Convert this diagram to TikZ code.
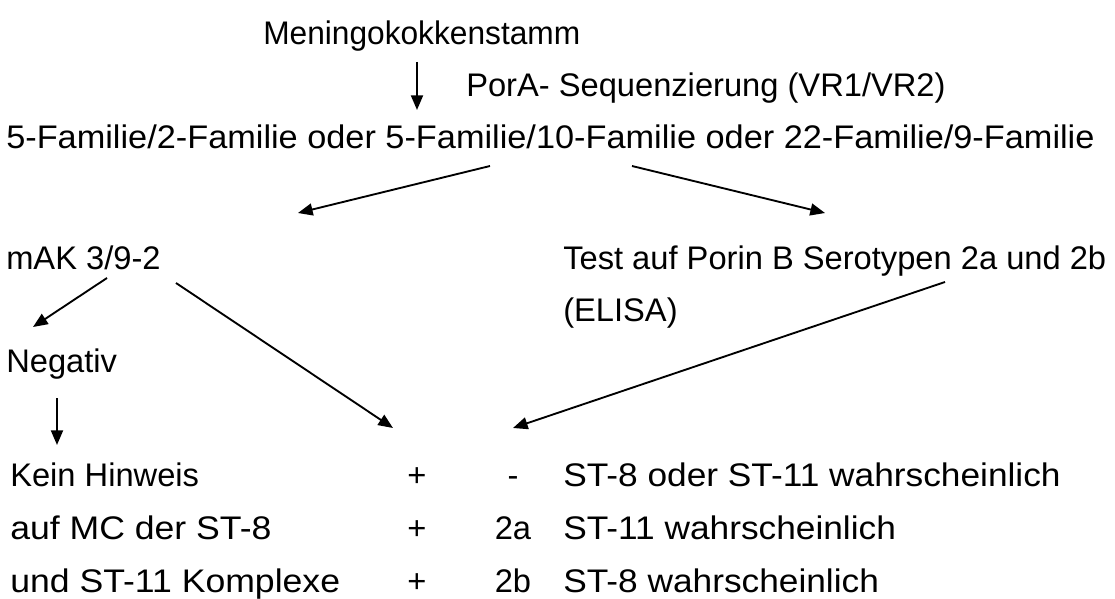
\documentclass[tikz,border=0pt]{standalone}
\usepackage{fontspec}
\setmainfont{Liberation Sans}
\usetikzlibrary{arrows.meta}

\begin{document}
\begin{tikzpicture}[x=0.75pt,y=-0.75pt,
  every node/.style={anchor=base west,inner sep=0pt,font=\fontsize{24.5}{29}\selectfont},
  pfeil/.style={line width=1.4pt,-{Triangle[length=11pt,width=9pt]}}]
  \useasboundingbox (0,0) rectangle (1115,599);
  % Textzeilen
  \node (meningo) at (263,45) {\scalebox{0.97}[1]{Meningokokkenstamm}};
  \node (pora) at (466,97) {PorA- Sequenzierung (VR1/VR2)};
  \node (familie) at (6,149) {\scalebox{1.05}[1]{5-Familie/2-Familie oder 5-Familie/10-Familie oder 22-Familie/9-Familie}};
  \node (mak) at (6,270) {mAK 3/9-2};
  \node (test) at (563,270) {Test auf Porin B Serotypen 2a und 2b};
  \node (elisa) at (563,321) {(ELISA)};
  \node (negativ) at (6,373) {Negativ};
  % Tabelle unten
  \node (kein) at (10,486) {Kein Hinweis};
  \node (auf) at (10,539) {\scalebox{1.09}[1]{auf MC der ST-8}};
  \node (und) at (10,592) {\scalebox{1.09}[1]{und ST-11 Komplexe}};
  \node[anchor=base] (plus1) at (417,486) {+};
  \node[anchor=base] (plus2) at (417,539) {+};
  \node[anchor=base] (plus3) at (417,592) {+};
  \node[anchor=base] (minus) at (513,486) {-};
  \node[anchor=base] (zweia) at (513,539) {2a};
  \node[anchor=base] (zweib) at (513,592) {2b};
  \node (st1) at (563,486) {\scalebox{1.08}[1]{ST-8 oder ST-11 wahrscheinlich}};
  \node (st2) at (563,539) {\scalebox{1.08}[1]{ST-11 wahrscheinlich}};
  \node (st3) at (563,592) {\scalebox{1.08}[1]{ST-8 wahrscheinlich}};
  % Pfeilenden
  \coordinate (m1) at (417,62);
  \coordinate (m2) at (417,110);
  \coordinate (f1) at (490,166);
  \coordinate (f2) at (298,213);
  \coordinate (f3) at (632,166);
  \coordinate (f4) at (825,213);
  \coordinate (k1) at (107,278);
  \coordinate (k2) at (33,327);
  \coordinate (k3) at (176,283);
  \coordinate (k4) at (393,428);
  \coordinate (t1) at (945,282);
  \coordinate (t2) at (513,428);
  \coordinate (n1) at (57,398);
  \coordinate (n2) at (57,445);
  \draw[pfeil] (m1) -- (m2);
  \draw[pfeil] (f1) -- (f2);
  \draw[pfeil] (f3) -- (f4);
  \draw[pfeil] (k1) -- (k2);
  \draw[pfeil] (k3) -- (k4);
  \draw[pfeil] (t1) -- (t2);
  \draw[pfeil] (n1) -- (n2);
\end{tikzpicture}
\end{document}
